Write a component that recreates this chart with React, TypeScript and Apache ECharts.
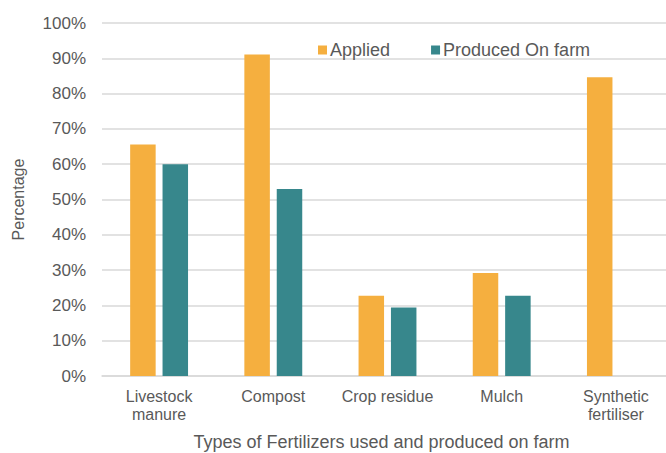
import React, { useEffect, useRef } from "react";
import * as echarts from "echarts";

const categories = ["Livestock\nmanure", "Compost", "Crop residue", "Mulch", "Synthetic\nfertiliser"];
const applied = [65.6, 91.1, 22.7, 29.2, 84.6];
const producedOnFarm: (number | null)[] = [60.0, 53.0, 19.4, 22.7, null];
const seriesNames = ["Applied", "Produced On farm"];
const yTicks = { min: 0, max: 100, interval: 10 };

export default function App() {
  const ref = useRef<HTMLDivElement>(null);
  useEffect(() => {
    if (!ref.current) return;
    const chart = echarts.init(ref.current, null, { renderer: "svg" });
    const font = "'Liberation Sans', Arial, sans-serif";
    const grey = "#595959";
    chart.setOption({
      animation: false,
      backgroundColor: "#ffffff",
      grid: {
        left: 102,
        top: 23,
        width: 571,
        height: 353,
        containLabel: false,
        outerBoundsMode: "none",
      },
      legend: {
        left: 313,
        top: 36,
        itemWidth: 9,
        itemHeight: 9,
        itemGap: 41,
        icon: "rect",
        textStyle: { fontFamily: font, fontSize: 18, color: grey, padding: [0, 0, 0, -2] },
        data: seriesNames,
      },
      xAxis: {
        type: "category",
        data: categories,
        axisLine: { show: true, lineStyle: { color: "#d9d9d9", width: 1.5 } },
        axisTick: { show: false },
        axisLabel: {
          fontFamily: font,
          fontSize: 16,
          color: grey,
          margin: 11,
          lineHeight: 18,
          interval: 0,
        },
        name: "Types of Fertilizers used and produced on farm",
        nameLocation: "middle",
        nameGap: 57,
        nameTextStyle: {
          fontFamily: font,
          fontSize: 18,
          lineHeight: 18,
          color: grey,
          padding: [0, 12, 0, 0],
        },
      },
      yAxis: {
        type: "value",
        min: yTicks.min,
        max: yTicks.max,
        interval: yTicks.interval,
        axisLine: { show: false },
        axisTick: { show: false },
        splitLine: { lineStyle: { color: "#d9d9d9", width: 1.5 } },
        axisLabel: {
          fontFamily: font,
          fontSize: 17,
          color: grey,
          margin: 16,
          formatter: (v: number) => `${v}%`,
        },
        name: "Percentage",
        nameLocation: "middle",
        nameRotate: 90,
        nameGap: 76,
        nameTextStyle: { fontFamily: font, fontSize: 16, color: grey },
      },
      series: [
        {
          name: seriesNames[0],
          type: "bar",
          data: applied,
          barWidth: 25.5,
          barGap: "27%",
          itemStyle: { color: "#F5AF3F" },
        },
        {
          name: seriesNames[1],
          type: "bar",
          data: producedOnFarm,
          barWidth: 25.5,
          itemStyle: { color: "#37878C" },
        },
      ],
    });
    return () => chart.dispose();
  }, []);
  return (
    <div
      ref={ref}
      style={{ position: "fixed", left: 0, top: 0, width: 666, height: 453, overflow: "hidden" }}
    />
  );
}
